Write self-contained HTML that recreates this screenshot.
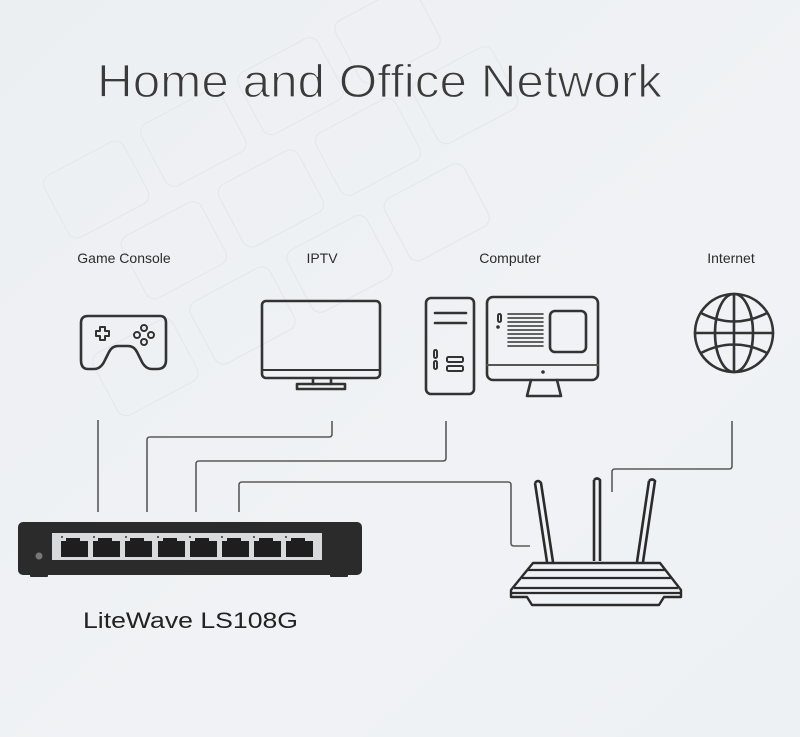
<!DOCTYPE html>
<html><head><meta charset="utf-8"><style>
html,body{margin:0;padding:0;background:#eef1f4;}
svg{display:block;font-family:"Liberation Sans",sans-serif;}
</style></head><body>
<svg width="800" height="737" viewBox="0 0 800 737" xmlns="http://www.w3.org/2000/svg">
<defs>
<linearGradient id="bg" x1="0" y1="0" x2="1" y2="1">
<stop offset="0" stop-color="#eceff2"/><stop offset="0.6" stop-color="#f0f2f5"/><stop offset="1" stop-color="#eef1f4"/>
</linearGradient>
</defs>
<rect width="800" height="737" fill="url(#bg)"/>
<g fill="none" stroke="#e4e8ec" stroke-width="1.2" transform="rotate(-28 300 200)">
<rect x="80" y="60" width="90" height="70" rx="10"/><rect x="190" y="60" width="90" height="70" rx="10"/>
<rect x="300" y="60" width="90" height="70" rx="10"/><rect x="410" y="60" width="90" height="70" rx="10"/>
<rect x="120" y="150" width="90" height="70" rx="10"/><rect x="230" y="150" width="90" height="70" rx="10"/>
<rect x="340" y="150" width="90" height="70" rx="10"/><rect x="450" y="150" width="90" height="70" rx="10"/>
<rect x="40" y="240" width="90" height="70" rx="10"/><rect x="150" y="240" width="90" height="70" rx="10"/>
<rect x="260" y="240" width="90" height="70" rx="10"/><rect x="370" y="240" width="90" height="70" rx="10"/>
</g>
<text x="97" y="97" font-size="46" fill="#3a3a3a" stroke="#eef1f4" stroke-width="1.2" textLength="565" lengthAdjust="spacingAndGlyphs">Home and Office Network</text>
<g font-size="14" fill="#2c2c2c" text-anchor="middle">
<text x="124" y="263">Game Console</text><text x="322" y="263">IPTV</text>
<text x="510" y="263">Computer</text><text x="731" y="263">Internet</text>
</g>
<g fill="none" stroke="#333" stroke-width="2.6" stroke-linejoin="round" stroke-linecap="round">
<path d="M88 316 H160 Q166 316 166 323 V360 Q166 369 157 369 H152 Q145 369 141 360 L137 352 Q134 346 128 346 H118 Q112 346 109 352 L105 360 Q101 369 94 369 H88 Q81 369 81 360 V323 Q81 316 88 316 Z"/>
<path d="M96 331 h4 v-4 h5 v4 h4 v5 h-4 v4 h-5 v-4 h-4 z" stroke-width="2"/>
<circle cx="144" cy="328" r="3" stroke-width="2"/><circle cx="144" cy="342" r="3" stroke-width="2"/>
<circle cx="137" cy="335" r="3" stroke-width="2"/><circle cx="151" cy="335" r="3" stroke-width="2"/>
<rect x="262" y="301" width="118" height="77" rx="4"/>
<line x1="262" y1="370" x2="380" y2="370" stroke-width="2"/>
<path d="M313 378 v6 M331 378 v6"/><rect x="297" y="384" width="48" height="5"/>
<rect x="426" y="298" width="48" height="96" rx="5"/>
<path d="M435 313 H466 M435 323 H466"/>
<rect x="434" y="350" width="3" height="8" rx="1.5" stroke-width="2"/><rect x="434" y="361" width="3" height="8" rx="1.5" stroke-width="2"/>
<rect x="447" y="357" width="16" height="5" rx="1.5" stroke-width="2"/><rect x="447" y="366" width="16" height="5" rx="1.5" stroke-width="2"/>
<rect x="487" y="297" width="111" height="83" rx="6"/>
<line x1="487" y1="365" x2="598" y2="365" stroke="#555" stroke-width="2"/>
<rect x="550" y="311" width="36" height="41" rx="5"/>
<rect x="498" y="314" width="3" height="8" rx="1.5" stroke-width="2"/>
<path d="M508 314 H543 M508 318 H543 M508 322 H543 M508 326 H543 M508 330 H543 M508 334 H543 M508 338 H543 M508 342 H543 M508 346 H543" stroke-width="1.6"/>
<path d="M531 380 L527 396 H561 L557 380"/>
<circle cx="734" cy="333" r="39"/>
<ellipse cx="734" cy="333" rx="19" ry="39"/>
<path d="M734 294 V372 M695 333 H773 M701 313 Q734 330 767 313 M701 353 Q734 336 767 353"/>
</g>
<circle cx="498" cy="327" r="1.8" fill="#333"/><circle cx="543" cy="372" r="1.8" fill="#333"/>
<g fill="none" stroke="#5a5a5a" stroke-width="1.6" stroke-linejoin="round">
<path d="M98 420 V512"/>
<path d="M147 512 V440 Q147 437 150 437 H329 Q332 437 332 434 V421"/>
<path d="M196 512 V464 Q196 461 199 461 H443 Q446 461 446 458 V421"/>
<path d="M239 512 V485 Q239 482 242 482 H508 Q511 482 511 485 V543 Q511 546 514 546 H530"/>
<path d="M732 421 V466 Q732 469 729 469 H615 Q612 469 612 472 V492"/>
</g>
<rect x="18" y="522" width="344" height="53" rx="5" fill="#2b2b2b"/>
<rect x="30" y="572" width="18" height="5" rx="1" fill="#2b2b2b"/><rect x="330" y="572" width="18" height="5" rx="1" fill="#2b2b2b"/>
<circle cx="39" cy="556" r="3.5" fill="#777"/>
<rect x="52" y="533" width="270" height="27" fill="#d8dadc"/>
<g fill="#1e1e1e">
<path id="p" d="M61 557 V541 H66 V538 H80 V541 H88 V557 Z"/>
<use href="#p" x="32"/><use href="#p" x="64"/><use href="#p" x="97"/>
<use href="#p" x="129"/><use href="#p" x="161"/><use href="#p" x="193"/><use href="#p" x="225"/>
</g>
<g fill="#333"><circle cx="62" cy="537" r="1"/><circle cx="94" cy="537" r="1"/><circle cx="126" cy="537" r="1"/><circle cx="158" cy="537" r="1"/><circle cx="190" cy="537" r="1"/><circle cx="222" cy="537" r="1"/><circle cx="254" cy="537" r="1"/><circle cx="286" cy="537" r="1"/></g>
<text x="83" y="628" font-size="22" fill="#222" textLength="215" lengthAdjust="spacingAndGlyphs">LiteWave LS108G</text>
<g fill="none" stroke="#2b2b2b" stroke-width="2.6" stroke-linejoin="round">
<path d="M535 483 Q538 479 541 483 L553 562 M535 483 L547 562"/>
<path d="M594 480 Q597 477 600 480 V561 M594 480 V561"/>
<path d="M649 481 Q652 478 655 481 L643 562 M649 481 L637 562"/>
<path d="M533 563 H660 L681 590 V597 H664 L659 605 H532 L527 597 H511 V590 Z" stroke-width="2.4"/>
<path d="M528 570 H665 M522 578 H671 M514 588 H678 M512 593 H680" stroke-width="2.2"/>
</g>
</svg>
</body></html>
